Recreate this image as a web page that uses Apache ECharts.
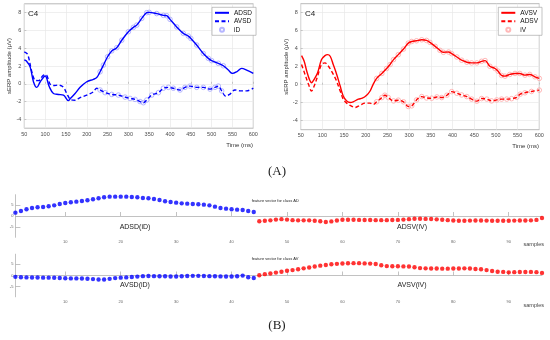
<!DOCTYPE html>
<html><head><meta charset="utf-8">
<script src="https://cdn.jsdelivr.net/npm/echarts@6/dist/echarts.min.js"></script>
<style>html,body{margin:0;padding:0;background:#fff}#c{width:550px;height:340px}</style>
</head><body><div id="c"></div><script>
// ---------- Panel A: ERP curves (time in ms, amplitude in µV) ----------
const adsdT = [50,55,64,72,80,88,100,110,120,132,144,156,160,172,184,200,216,224,232,240,250,260,272,284,300,312,320,332,344,350,368,384,392,400,416,432,444,450,464,480,492,500,516,528,540,550,560,572,584,600];
const adsdV = [2.67,2.56,1.9,0.23,-0.41,0.2,0.87,-0.33,-1.1,-1.2,-1.27,-1.9,-1.7,-1.1,-0.4,0.23,0.5,0.7,1.35,2.1,3.04,3.7,4.06,4.9,5.86,6.35,6.6,7.36,8.0,8.04,7.9,7.7,7.66,7.25,6.4,5.67,5.37,5.1,4.36,3.4,2.86,2.6,2.3,2.03,1.54,1.17,1.35,1.73,1.54,1.17];
const avsdT = [50,58,68,76,84,96,102,112,120,132,144,152,162,172,184,200,216,224,232,244,260,276,292,304,316,328,336,344,356,372,384,396,408,424,436,448,464,480,496,508,516,524,534,544,556,568,584,600];
const avsdV = [3.6,3.3,1.35,0.4,0.35,0.97,1.0,-0.03,-0.2,-0.15,-0.4,-1.1,-1.8,-1.85,-1.55,-1.28,-0.9,-0.5,-0.7,-1.0,-1.2,-1.27,-1.5,-1.65,-1.76,-2.0,-2.13,-1.83,-1.27,-1.0,-0.5,-0.4,-0.5,-0.7,-0.4,-0.26,-0.4,-0.4,-0.6,-0.4,-0.26,-0.8,-1.4,-1.16,-0.7,-0.8,-0.8,-0.5];
const avsvT = [52,58,64,70,75,81,89,98,106,112,118,125,133,141,148,156,164,171,183,192,202,210,217,225,237,248,256,264,275,287,298,306,317,329,340,348,360,371,379,391,398,410,421,433,444,456,467,475,486,498,505,513,521,532,544,555,567,578,590,600];
const avsvV = [3.23,2.6,1.5,0.59,0.22,0.59,1.32,2.79,3.23,3.34,3.16,2.24,1.14,-0.15,-1.25,-1.8,-1.98,-1.9,-1.6,-1.5,-1.17,-0.7,0.04,0.7,1.25,1.8,2.24,2.79,3.34,3.96,4.62,4.8,4.88,4.99,4.92,4.7,4.26,3.82,3.6,3.63,3.45,3.08,2.72,2.5,2.42,2.42,2.6,2.68,2.05,1.8,1.5,1.03,0.95,1.14,1.25,1.25,1.06,1.14,0.88,0.7];
const adsvT = [52,60,68,75,81,89,98,106,114,121,131,141,148,156,166,175,187,198,210,217,225,237,244,252,264,275,287,298,306,317,329,340,352,364,375,387,398,410,421,433,444,456,467,479,490,502,513,525,536,548,556,567,582,600];
const adsvV = [2.24,1.14,0.04,-0.7,-0.15,0.95,2.24,2.42,2.05,1.5,0.59,-0.7,-1.6,-2.05,-2.35,-2.53,-2.28,-2.05,-2.05,-2.2,-1.9,-1.43,-1.17,-1.43,-1.8,-1.72,-1.9,-2.42,-2.35,-1.69,-1.32,-1.47,-1.5,-1.36,-1.43,-1.17,-0.77,-0.95,-1.14,-1.32,-1.6,-1.83,-1.54,-1.6,-1.8,-1.69,-1.6,-1.6,-1.55,-1.4,-1.05,-0.9,-0.75,-0.6];
const windowD = [230, 530];   // iD feature window (ms)
const windowV = [220, 600];   // iV feature window (ms)
const ampTicks = [-4,-2,0,2,4,6,8];

// ---------- Panel B: feature vectors ----------
const adsdFeat = [1.49,2.23,2.98,3.57,3.87,4.02,4.32,4.76,5.36,5.8,6.1,6.4,6.7,7.0,7.44,7.89,8.33,8.63,8.63,8.63,8.63,8.48,8.33,8.04,7.89,7.59,7.14,6.55,6.25,5.95,5.65,5.5,5.36,5.21,5.06,4.76,4.17,3.57,3.27,2.98,2.83,2.68,2.23,1.79];
const adsvFeat = [-2.35,-2.1,-1.95,-1.6,-1.4,-1.6,-1.85,-1.95,-1.95,-1.95,-2.1,-2.35,-2.7,-2.4,-2.0,-1.7,-1.7,-1.7,-1.75,-1.8,-1.8,-1.85,-1.85,-1.85,-1.8,-1.75,-1.6,-1.4,-1.2,-1.25,-1.3,-1.35,-1.5,-1.65,-1.85,-2.0,-2.1,-2.1,-2.05,-2.0,-2.0,-2.05,-2.1,-2.1,-2.1,-2.1,-2.05,-2.0,-2.0,-1.95,-1.75,-0.9];
const avsdFeat = [-0.6,-0.8,-0.85,-0.9,-0.9,-0.95,-0.95,-1.0,-1.1,-1.25,-1.3,-1.3,-1.35,-1.45,-1.6,-1.8,-1.8,-1.5,-1.15,-0.95,-0.85,-0.7,-0.5,-0.3,-0.25,-0.3,-0.35,-0.35,-0.45,-0.45,-0.35,-0.25,-0.15,-0.15,-0.25,-0.3,-0.35,-0.4,-0.45,-0.45,-0.35,-0.05,-0.8,-1.1];
const avsvFeat = [0.1,0.6,0.9,1.3,1.7,2.1,2.4,2.8,3.2,3.6,4.0,4.4,4.7,5.0,5.2,5.35,5.45,5.5,5.5,5.4,5.3,5.1,4.6,4.2,4.1,4.1,4.05,4.0,3.7,3.3,3.2,3.1,3.1,3.05,3.05,3.1,3.1,3.2,3.1,2.9,2.8,2.4,2.0,1.7,1.6,1.4,1.5,1.55,1.55,1.6,1.5,1.15];
const sampleTicks = [10,20,30,40,50,60,70,80,90];
const featTicks = [-5,0,5];

const pairs = (T, V) => T.map((t, i) => [t, V[i]]);
const inWin = (T, V, w) => pairs(T, V).filter(p => p[0] >= w[0] && p[0] <= w[1]);

const FONT = 'Liberation Sans, Arial, sans-serif';
const BLUE = '#0000ff', RED = '#ff0000';
const boxCol = '#a6a6a6', tickLab = '#4d4d4d', gridCol = '#e8e8e8';

function topX(g) {
  return { gridIndex: g, type: 'value', min: 50, max: 600, interval: 50,
    axisLine: { show: false }, axisTick: { inside: true, length: 2, lineStyle: { color: boxCol, width: 0.6 } },
    axisLabel: { fontSize: 5.5, color: tickLab, margin: 3, fontFamily: FONT },
    splitLine: { show: true, lineStyle: { color: gridCol, width: 0.7 } } };
}
function topY(g) {
  return { gridIndex: g, type: 'value', min: -5, max: 9,
    axisLine: { show: false },
    axisTick: { inside: true, length: 2, customValues: ampTicks, lineStyle: { color: boxCol, width: 0.6 } },
    axisLabel: { fontSize: 5.5, color: tickLab, margin: 3, fontFamily: FONT, customValues: ampTicks },
    splitLine: { show: true, lineStyle: { color: gridCol, width: 0.7 } },
    name: 'sERP amplitude (\u03bcV)', nameLocation: 'middle', nameGap: 9,
    nameTextStyle: { fontSize: 6, color: '#333', fontFamily: FONT } };
}
function botX(g) {
  return { gridIndex: g, type: 'value', min: 1, max: 96,
    axisLine: { show: true, lineStyle: { color: '#b3b3b3', width: 0.8 } },
    axisTick: { show: true, inside: true, length: 4, customValues: sampleTicks, lineStyle: { color: '#b3b3b3', width: 0.8 } },
    axisLabel: { fontSize: 4, color: '#666', margin: 3, fontFamily: FONT, customValues: sampleTicks },
    splitLine: { show: false } };
}
function botY(g) {
  return { gridIndex: g, type: 'value', min: -9.5, max: 9.5,
    axisLine: { show: true, lineStyle: { color: '#b3b3b3', width: 0.8 } },
    axisTick: { show: true, inside: true, length: 5, customValues: featTicks, lineStyle: { color: '#b3b3b3', width: 0.8 } },
    axisLabel: { fontSize: 4, color: '#666', margin: 2, fontFamily: FONT, customValues: featTicks },
    splitLine: { show: false },
    name: '\u03bcV', nameLocation: 'middle', nameGap: 7,
    nameTextStyle: { fontSize: 5, color: '#444', fontFamily: FONT } };
}
function lineS(name, g, data, color, dashed) {
  return { name, type: 'line', xAxisIndex: g, yAxisIndex: g, data, symbol: 'none', smooth: 0.35,
    lineStyle: { color, width: 1.4, type: dashed ? [4, 2.5] : 'solid' }, itemStyle: { color }, z: 3 };
}
function circS(name, g, data, color) {
  return { name, type: 'scatter', xAxisIndex: g, yAxisIndex: g, data, symbol: 'circle', symbolSize: 4.6,
    itemStyle: { color: 'rgba(255,255,255,0)', borderColor: color, borderWidth: 1 }, z: 2 };
}
function dotS(name, g, data, color) {
  return { name, type: 'scatter', xAxisIndex: g, yAxisIndex: g, data, symbol: 'circle', symbolSize: 4.4,
    itemStyle: { color }, z: 2 };
}
function legendAt(left, top, names) {
  return { data: [
      { name: names[0], itemStyle: { opacity: 0 } },
      { name: names[1], itemStyle: { opacity: 0 } },
      { name: names[2] }
    ], orient: 'vertical', left, top, itemWidth: 14, itemHeight: 4, itemGap: 1.5,
    padding: [2, 4, 2, 2], backgroundColor: '#fff', borderColor: '#9a9a9a', borderWidth: 0.6,
    textStyle: { fontSize: 6.5, color: '#111', fontFamily: FONT }, selectedMode: false };
}
function txt(x, y, text, size, opts) {
  opts = opts || {};
  return { type: 'text', x, y, z: 100, style: { text, font: (opts.weight || '') + ' ' + size + 'px ' + (opts.family || FONT),
    fill: opts.fill || '#222', align: opts.align || 'center', verticalAlign: 'middle' } };
}

const option = {
  animation: false,
  backgroundColor: '#fff',
  grid: [
    { left: 24.3, top: 3.8, width: 229, height: 124.4, show: true, borderColor: boxCol, borderWidth: 0.8, backgroundColor: 'rgba(0,0,0,0)', outerBoundsMode: 'none', containLabel: false },
    { left: 300.7, top: 3.7, width: 238.6, height: 126, show: true, borderColor: boxCol, borderWidth: 0.8, backgroundColor: 'rgba(0,0,0,0)', outerBoundsMode: 'none', containLabel: false },
    { left: 15.4, top: 194.7, width: 526.6, height: 42.6, outerBoundsMode: 'none', containLabel: false },
    { left: 15.4, top: 254.2, width: 526.6, height: 42.6, outerBoundsMode: 'none', containLabel: false }
  ],
  xAxis: [topX(0), topX(1), botX(2), botX(3)],
  yAxis: [topY(0), topY(1), botY(2), botY(3)],
  legend: [
    legendAt(212, 7.3, ['ADSD', 'AVSD', 'iD']),
    legendAt(498.3, 7.3, ['AVSV', 'ADSV', 'iV'])
  ],
  series: [
    circS('iD', 0, inWin(adsdT, adsdV, windowD).concat(inWin(avsdT, avsdV, windowD)), '#a4a4ff'),
    lineS('ADSD', 0, pairs(adsdT, adsdV), BLUE, false),
    lineS('AVSD', 0, pairs(avsdT, avsdV), BLUE, true),
    circS('iV', 1, inWin(avsvT, avsvV, windowV).concat(inWin(adsvT, adsvV, windowV)), '#ffa6a6'),
    lineS('AVSV', 1, pairs(avsvT, avsvV), RED, false),
    lineS('ADSV', 1, pairs(adsvT, adsvV), RED, true),
    dotS('ADSD(iD)', 2, adsdFeat.map((v, i) => [i + 1, v]), BLUE),
    dotS('ADSV(iV)', 2, adsvFeat.map((v, i) => [adsdFeat.length + 1 + i, v]), RED),
    dotS('AVSD(iD)', 3, avsdFeat.map((v, i) => [i + 1, v]), BLUE),
    dotS('AVSV(iV)', 3, avsvFeat.map((v, i) => [avsdFeat.length + 1 + i, v]), RED)
  ],
  graphic: [
    txt(28, 14, 'C4', 8, { align: 'left' }),
    txt(305, 14, 'C4', 8, { align: 'left' }),
    txt(253, 145, 'Time (ms)', 6, { align: 'right', fill: '#333' }),
    txt(539, 146, 'Time (ms)', 6, { align: 'right', fill: '#333' }),
    txt(544, 244.3, 'samples', 5.5, { align: 'right', fill: '#444' }),
    txt(544, 305, 'samples', 5.5, { align: 'right', fill: '#444' }),
    txt(277, 172, '(A)', 13, { family: 'Liberation Serif, Times New Roman, serif' }),
    txt(277, 326, '(B)', 13, { family: 'Liberation Serif, Times New Roman, serif' }),
    txt(135, 226.7, 'ADSD(iD)', 7),
    txt(412, 226.7, 'ADSV(iV)', 7),
    txt(135, 285.3, 'AVSD(iD)', 7),
    txt(412, 285.3, 'AVSV(iV)', 7),
    txt(251.7, 200.7, 'feature vector for class AD', 4, { align: 'left' }),
    txt(251.7, 259, 'feature vector for class AV', 4, { align: 'left' })
  ]
};
const chart = echarts.init(document.getElementById('c'));
chart.setOption(option);
</script></body></html>
